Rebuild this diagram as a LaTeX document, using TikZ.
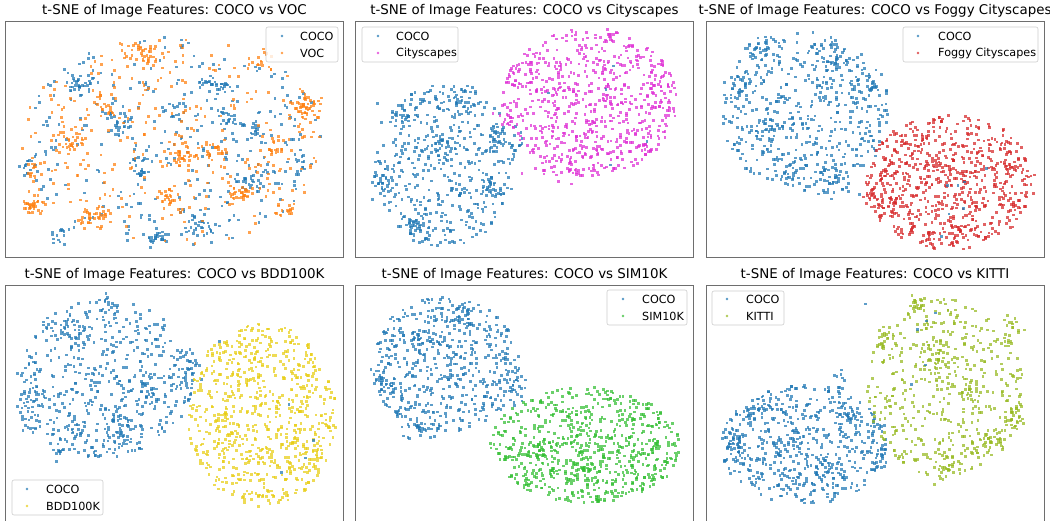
\documentclass[tikz,border=0pt]{standalone}
\usepackage{fontspec}
\setmainfont{DejaVu Sans}
\definecolor{cb}{RGB}{31,119,180}
\definecolor{co}{RGB}{255,127,14}
\definecolor{cp}{RGB}{222,45,212}
\definecolor{cr}{RGB}{214,39,40}
\definecolor{cy}{RGB}{232,205,20}
\definecolor{cg}{RGB}{50,190,50}
\definecolor{ck}{RGB}{150,185,30}
\definecolor{frame}{RGB}{110,110,110}
\newcommand\udisc[5]{%
  \foreach \k in {1,...,#5}{%
    \pgfmathsetmacro\ang{360*rnd}%
    \pgfmathsetmacro\rr{sqrt(rnd)}%
    \pgfmathsetmacro\px{#1-1.35+#3*\rr*cos(\ang)}%
    \pgfmathsetmacro\py{#2-1.35+#4*\rr*sin(\ang)}%
    \fill (\px,\py) rectangle +(2.7,2.7);}}
\newcommand\gclump[5]{%
  \foreach \k in {1,...,#5}{%
    \pgfmathsetmacro\px{#1-1.35+#3*(rand+rand+rand)}%
    \pgfmathsetmacro\py{#2-1.35+#4*(rand+rand+rand)}%
    \fill (\px,\py) rectangle +(2.7,2.7);}}
\tikzset{
  axesframe/.style={draw=frame,line width=0.8pt},
  ttl/.style={font=\fontsize{13.4}{15}\selectfont,inner sep=0pt},
  lgbox/.style={draw=black!20,fill=white,fill opacity=0.8,rounded corners=2pt,line width=0.6pt},
  lgtext/.style={font=\fontsize{11.2}{13}\selectfont,anchor=west,inner sep=0pt},
  pts/.style={fill=#1,fill opacity=0.72},
  lgdot/.style={fill=#1,fill opacity=0.75},
}
\begin{document}
\begin{tikzpicture}[x=1pt,y=-1pt]
\useasboundingbox (0,0) rectangle (1050,520);
\pgfmathsetseed{4242}
% ---------- panel 1
\begin{scope}
\clip (5.5,21.5) rectangle (343.5,257);
\begin{scope}[pts=cb]
\udisc{172}{142}{155}{105}{300}
\gclump{80}{85}{8}{6}{35}
\gclump{30}{168}{6}{5}{15}
\gclump{120}{120}{8}{8}{30}
\gclump{140}{165}{6}{8}{25}
\gclump{155}{238}{6}{4}{25}
\gclump{215}{85}{8}{5}{30}
\gclump{245}{180}{8}{6}{30}
\gclump{200}{225}{8}{6}{25}
\gclump{255}{130}{7}{6}{20}
\gclump{60}{235}{6}{5}{15}
\gclump{300}{165}{6}{6}{15}
\gclump{230}{120}{6}{6}{15}
\gclump{175}{110}{6}{6}{15}
\end{scope}
\begin{scope}[pts=co]
\udisc{172}{142}{155}{105}{300}
\gclump{35}{205}{6}{5}{35}
\gclump{35}{170}{5}{5}{15}
\gclump{70}{140}{8}{6}{35}
\gclump{92}{215}{8}{5}{35}
\gclump{140}{55}{10}{7}{40}
\gclump{185}{155}{8}{6}{35}
\gclump{215}{150}{6}{6}{25}
\gclump{240}{195}{6}{6}{30}
\gclump{305}{105}{8}{7}{45}
\gclump{275}{150}{6}{6}{15}
\gclump{285}{210}{6}{5}{15}
\gclump{105}{105}{6}{6}{15}
\gclump{170}{195}{6}{6}{20}
\gclump{260}{60}{6}{6}{15}
\end{scope}
\end{scope}
\draw[axesframe] (5.5,21.5) rectangle (343.5,257);
\node[ttl] (t1) at (174.5,11) {t-SNE of Image Features: COCO vs VOC};
\draw[lgbox] (266,27) rectangle (338,62);
\fill[lgdot=cb] (282,36) circle[radius=1.4pt];
\fill[lgdot=co] (282,53) circle[radius=1.4pt];
\node[lgtext] (l1a) at (300,36) {COCO};
\node[lgtext] (l1b) at (300,53) {VOC};
% ---------- panel 2
\begin{scope}
\clip (355.5,21.5) rectangle (693.5,257);
\begin{scope}[pts=cb]
\udisc{445}{165}{70}{82}{420}
\udisc{505}{140}{18}{22}{40}
\gclump{385}{180}{8}{8}{30}
\gclump{415}{228}{8}{6}{30}
\gclump{435}{150}{8}{8}{25}
\gclump{490}{185}{6}{6}{20}
\gclump{400}{115}{8}{6}{20}
\gclump{465}{100}{8}{6}{20}
\end{scope}
\begin{scope}[pts=cp]
\udisc{590}{102}{88}{74}{680}
\gclump{560}{165}{20}{10}{30}
\gclump{505}{120}{5}{5}{8}
\end{scope}
\begin{scope}[pts=cb]
\gclump{590}{110}{50}{40}{5}
\end{scope}
\end{scope}
\draw[axesframe] (355.5,21.5) rectangle (693.5,257);
\node[ttl] (t2) at (524.5,11) {t-SNE of Image Features: COCO vs Cityscapes};
\draw[lgbox] (362,27) rectangle (458,62);
\fill[lgdot=cb] (378,36) circle[radius=1.4pt];
\fill[lgdot=cp] (378,53) circle[radius=1.4pt];
\node[lgtext] (l2a) at (396,36) {COCO};
\node[lgtext] (l2b) at (396,53) {Cityscapes};
% ---------- panel 3
\begin{scope}
\clip (706,21.5) rectangle (1044,257);
\begin{scope}[pts=cb]
\udisc{805}{112}{85}{80}{500}
\gclump{835}{185}{12}{8}{25}
\gclump{740}{90}{6}{8}{25}
\gclump{770}{130}{6}{6}{20}
\gclump{835}{60}{8}{6}{20}
\gclump{870}{85}{6}{6}{20}
\gclump{790}{165}{6}{6}{20}
\gclump{755}{45}{8}{6}{20}
\end{scope}
\begin{scope}[pts=cr]
\udisc{950}{182}{85}{68}{720}
\gclump{880}{195}{10}{14}{20}
\end{scope}
\begin{scope}[pts=cb]
\gclump{950}{180}{40}{30}{8}
\end{scope}
\end{scope}
\draw[axesframe] (706,21.5) rectangle (1044,257);
\node[ttl] (t3) at (875,11) {t-SNE of Image Features: COCO vs Foggy Cityscapes};
\draw[lgbox] (903,27) rectangle (1038,62);
\fill[lgdot=cb] (918,36) circle[radius=1.4pt];
\fill[lgdot=cr] (918,53) circle[radius=1.4pt];
\node[lgtext] (l3a) at (938,36) {COCO};
\node[lgtext] (l3b) at (938,53) {Foggy Cityscapes};
% ---------- panel 4
\begin{scope}
\clip (5.5,285) rectangle (343.5,521);
\begin{scope}[pts=cb]
\udisc{105}{378}{88}{80}{520}
\gclump{190}{370}{6}{12}{25}
\gclump{30}{420}{6}{10}{25}
\gclump{70}{330}{8}{8}{20}
\gclump{120}{430}{8}{8}{25}
\gclump{150}{390}{6}{8}{20}
\gclump{60}{450}{6}{6}{15}
\gclump{110}{300}{6}{6}{10}
\end{scope}
\begin{scope}[pts=cy]
\udisc{262}{415}{75}{92}{720}
\end{scope}
\begin{scope}[pts=cb]
\gclump{260}{420}{40}{40}{5}
\end{scope}
\end{scope}
\draw[axesframe] (5.5,285) rectangle (343.5,521);
\node[ttl] (t4) at (174.5,275) {t-SNE of Image Features: COCO vs BDD100K};
\draw[lgbox] (12,480) rectangle (103,515);
\fill[lgdot=cb] (27,489) circle[radius=1.4pt];
\fill[lgdot=cy] (27,506) circle[radius=1.4pt];
\node[lgtext] (l4a) at (46,489) {COCO};
\node[lgtext] (l4b) at (46,506) {BDD100K};
% ---------- panel 5
\begin{scope}
\clip (355.5,285) rectangle (693.5,521);
\begin{scope}[pts=cb]
\udisc{445}{365}{75}{68}{500}
\gclump{515}{390}{6}{10}{25}
\gclump{385}{385}{6}{6}{25}
\gclump{420}{430}{8}{6}{20}
\gclump{465}{320}{8}{6}{25}
\gclump{415}{340}{8}{6}{20}
\end{scope}
\begin{scope}[pts=cg]
\udisc{585}{445}{95}{58}{680}
\gclump{540}{450}{5}{5}{20}
\gclump{590}{470}{6}{5}{15}
\gclump{660}{470}{6}{5}{15}
\end{scope}
\end{scope}
\draw[axesframe] (355.5,285) rectangle (693.5,521);
\node[ttl] (t5) at (524.5,275) {t-SNE of Image Features: COCO vs SIM10K};
\draw[lgbox] (607,290) rectangle (687,325);
\fill[lgdot=cb] (623,299) circle[radius=1.4pt];
\fill[lgdot=cg] (623,316) circle[radius=1.4pt];
\node[lgtext] (l5a) at (642,299) {COCO};
\node[lgtext] (l5b) at (642,316) {SIM10K};
% ---------- panel 6
\begin{scope}
\clip (706,285) rectangle (1044,521);
\begin{scope}[pts=cb]
\udisc{805}{445}{85}{60}{520}
\gclump{735}{445}{6}{6}{25}
\gclump{760}{410}{8}{6}{20}
\gclump{820}{470}{8}{6}{20}
\gclump{845}{415}{6}{6}{20}
\gclump{880}{460}{6}{6}{15}
\gclump{840}{385}{5}{8}{12}
\end{scope}
\begin{scope}[pts=ck]
\udisc{945}{388}{78}{90}{450}
\gclump{885}{340}{8}{6}{25}
\gclump{915}{300}{5}{5}{15}
\gclump{1010}{330}{6}{8}{20}
\gclump{1015}{415}{6}{8}{25}
\gclump{945}{470}{8}{6}{20}
\gclump{990}{440}{10}{6}{25}
\gclump{935}{360}{8}{8}{20}
\gclump{970}{395}{8}{8}{20}
\end{scope}
\begin{scope}[pts=cb]
\gclump{930}{350}{40}{30}{6}
\end{scope}
\end{scope}
\draw[axesframe] (706,285) rectangle (1044,521);
\node[ttl] (t6) at (875,275) {t-SNE of Image Features: COCO vs KITTI};
\draw[lgbox] (712,291) rectangle (784,325);
\fill[lgdot=cb] (727,299) circle[radius=1.4pt];
\fill[lgdot=ck] (727,316) circle[radius=1.4pt];
\node[lgtext] (l6a) at (746,299) {COCO};
\node[lgtext] (l6b) at (746,316) {KITTI};
\end{tikzpicture}
\end{document}
